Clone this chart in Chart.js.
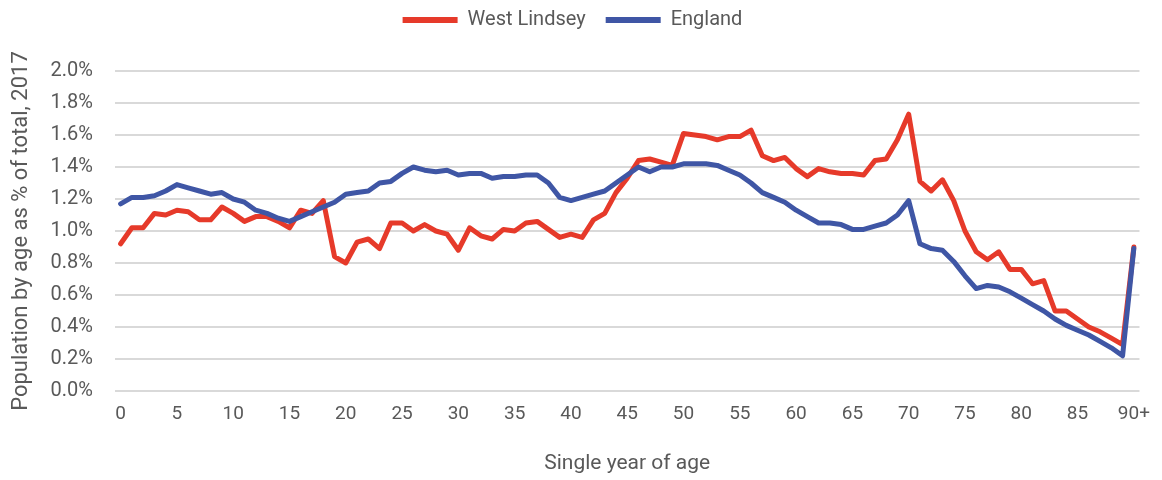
<!DOCTYPE html>
<html>
<head>
<meta charset="utf-8">
<script src="https://cdn.jsdelivr.net/npm/chart.js@4"></script>
<style>
  html, body { margin: 0; padding: 0; background: #ffffff; }
  #wrap { width: 1162px; height: 480px; }
</style>
</head>
<body>
<div id="wrap"><canvas id="cv1" width="1162" height="480"></canvas></div>
<script>

// single year of age 0..89 then 90+
const ages = [];
for (let a = 0; a < 90; a++) ages.push(String(a));
ages.push("90+");

// share of total population at each age, in %
const westLindsey = [
    0.92, 1.02, 1.02, 1.11, 1.10, 1.13, 1.12, 1.07, 1.07, 1.15,
    1.11, 1.06, 1.09, 1.09, 1.06, 1.02, 1.13, 1.11, 1.19, 0.84,
    0.80, 0.93, 0.95, 0.89, 1.05, 1.05, 1.00, 1.04, 1.00, 0.98,
    0.88, 1.02, 0.97, 0.95, 1.01, 1.00, 1.05, 1.06, 1.01, 0.96,
    0.98, 0.96, 1.07, 1.11, 1.24, 1.33, 1.44, 1.45, 1.43, 1.41,
    1.61, 1.60, 1.59, 1.57, 1.59, 1.59, 1.63, 1.47, 1.44, 1.46,
    1.39, 1.34, 1.39, 1.37, 1.36, 1.36, 1.35, 1.44, 1.45, 1.57,
    1.73, 1.31, 1.25, 1.32, 1.19, 1.00, 0.87, 0.82, 0.87, 0.76,
    0.76, 0.67, 0.69, 0.50, 0.50, 0.45, 0.40, 0.37, 0.33, 0.29,
    0.90
];

const england = [
    1.17, 1.21, 1.21, 1.22, 1.25, 1.29, 1.27, 1.25, 1.23, 1.24,
    1.20, 1.18, 1.13, 1.11, 1.08, 1.06, 1.09, 1.12, 1.15, 1.18,
    1.23, 1.24, 1.25, 1.30, 1.31, 1.36, 1.40, 1.38, 1.37, 1.38,
    1.35, 1.36, 1.36, 1.33, 1.34, 1.34, 1.35, 1.35, 1.30, 1.21,
    1.19, 1.21, 1.23, 1.25, 1.30, 1.35, 1.40, 1.37, 1.40, 1.40,
    1.42, 1.42, 1.42, 1.41, 1.38, 1.35, 1.30, 1.24, 1.21, 1.18,
    1.13, 1.09, 1.05, 1.05, 1.04, 1.01, 1.01, 1.03, 1.05, 1.10,
    1.19, 0.92, 0.89, 0.88, 0.81, 0.72, 0.64, 0.66, 0.65, 0.62,
    0.58, 0.54, 0.50, 0.45, 0.41, 0.38, 0.35, 0.31, 0.27, 0.22,
    0.89
];

const red = "#e63a2a";
const blue = "#3f56a5";
const grey = "#595959";
const font = "'Liberation Sans Narrow', 'Roboto', sans-serif";

// legend sits near the top edge, plot starts lower down
const legendGap = {
    id: "legendGap",
    beforeInit(chart) {
        const lg = chart.legend;
        const fit = lg.fit;
        const draw = lg.draw;
        lg.fit = function () {
            fit.bind(lg)();
            this.height += 21;
        };
        lg.draw = function () {
            const ctx = chart.ctx;
            ctx.save();
            ctx.translate(0, -10);
            draw.bind(lg)();
            ctx.restore();
        };
    }
};

new Chart(document.getElementById("cv1"), {
    type: "line",
    data: {
        labels: ages,
        datasets: [
            { label: "West Lindsey", data: westLindsey, borderColor: red, backgroundColor: red, order: 2 },
            { label: "England", data: england, borderColor: blue, backgroundColor: blue, order: 1 }
        ]
    },
    options: {
        responsive: false,
        animation: false,
        layout: { padding: { left: 0, right: 17, top: 0, bottom: 0 } },
        elements: {
            point: { radius: 0 },
            line: { borderWidth: 5, tension: 0, borderJoinStyle: "round", borderCapStyle: "round" }
        },
        plugins: {
            tooltip: { enabled: false },
            legend: {
                position: "top",
                labels: {
                    boxWidth: 55,
                    boxHeight: 6,
                    padding: 20,
                    color: grey,
                    font: { family: font, size: 20 },
                    sort: (a, b) => a.datasetIndex - b.datasetIndex,
                    generateLabels(chart) {
                        const items = Chart.defaults.plugins.legend.labels.generateLabels(chart);
                        items.forEach(it => { it.lineWidth = 0; });
                        return items;
                    }
                }
            }
        },
        scales: {
            x: {
                offset: true,
                grid: { display: false, drawTicks: false },
                border: { display: false },
                ticks: {
                    autoSkip: false,
                    maxRotation: 0,
                    padding: 12,
                    color: grey,
                    font: { family: font, size: 19 },
                    callback: (v, i) => (i % 5 === 0 ? ages[i] : "")
                },
                title: {
                    display: true,
                    text: "Single year of age",
                    color: grey,
                    font: { family: font, size: 21 },
                    padding: { top: 0, bottom: 4 }
                },
                afterFit: (scale) => { scale.height = 89; }
            },
            y: {
                min: 0,
                max: 2.0,
                grid: { color: "#d9d9d9", lineWidth: 2, drawTicks: false },
                border: { display: false },
                ticks: {
                    stepSize: 0.2,
                    padding: 22,
                    color: grey,
                    font: { family: font, size: 20 },
                    callback: (v) => v.toFixed(1) + "%"
                },
                title: {
                    display: true,
                    text: "Population by age as % of total, 2017",
                    color: grey,
                    font: { family: font, size: 22 },
                    padding: { top: 8, bottom: 0 }
                },
                afterFit: (scale) => { scale.width = 115; }
            }
        }
    },
    plugins: [legendGap]
});
</script>
</body>
</html>
